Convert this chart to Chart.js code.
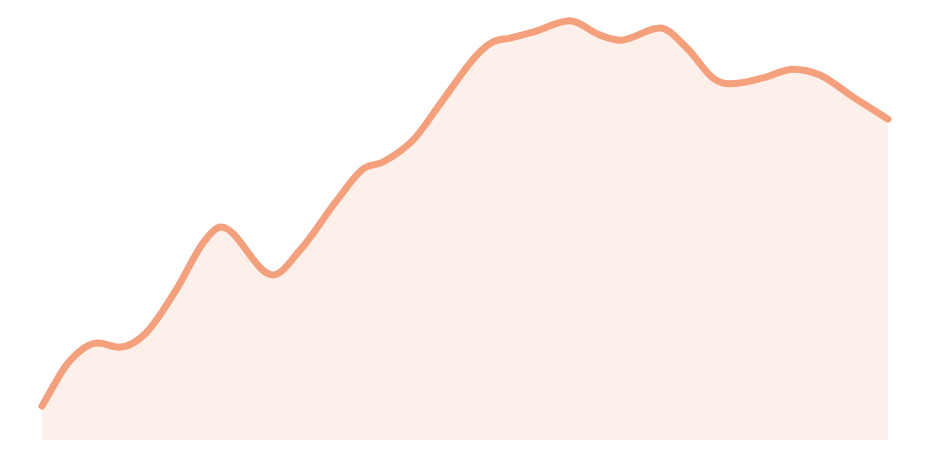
<!DOCTYPE html>
<html>
<head>
<meta charset="utf-8">
<script src="https://cdn.jsdelivr.net/npm/chart.js@4/dist/chart.umd.min.js"></script>
<style>
    html, body {margin: 0; padding: 0; background: #fff;}
    .Chart {width: 930px; height: 462px;}
</style>
</head>
<body>
<div class="Chart"><canvas id="area"></canvas></div>
<script>
// positions along the x axis (irregular spacing)
const positions = [
    0, 27, 56, 77, 104, 134, 161, 179, 231, 258, 295, 321, 341, 371, 401,
    435, 451, 468, 491, 528, 558, 578, 618, 645, 671, 688, 721, 751, 778, 811, 846
]
// series values, 0..100
const values = [
    8.1, 18.6, 23.1, 22.1, 25.5, 35.7, 46.9, 50.7, 39.3, 45.2, 57.1, 64.5, 66.2, 71.4, 81.0,
    91.7, 94.8, 95.7, 97.1, 99.8, 96.4, 95.2, 98.1, 93.3, 86.2, 84.8, 86.2, 88.3, 86.9, 81.7, 76.4
]

const lineColor = '#F4A07C'
const fillColor = 'rgba(244, 160, 124, 0.16)'

const seriesData = positions.map((x, idx) => ({x: x, y: values[idx]}))

new Chart(document.getElementById('area'), {
    type: 'line',
    data: {
        datasets: [{
            data: seriesData,
            borderColor: lineColor,
            backgroundColor: fillColor,
            borderWidth: 7,
            borderCapStyle: 'round',
            borderJoinStyle: 'round',
            fill: 'origin',
            clip: 10,
            pointRadius: 0,
            cubicInterpolationMode: 'monotone'
        }]
    },
    options: {
        responsive: true,
        maintainAspectRatio: false,
        animation: false,
        layout: {padding: {left: 42, right: 42, top: 20, bottom: 22}},
        plugins: {legend: {display: false}, tooltip: {enabled: false}},
        scales: {
            x: {type: 'linear', display: false, min: 0, max: 846},
            y: {display: false, min: 0, max: 100}
        }
    }
})
</script>
</body>
</html>
